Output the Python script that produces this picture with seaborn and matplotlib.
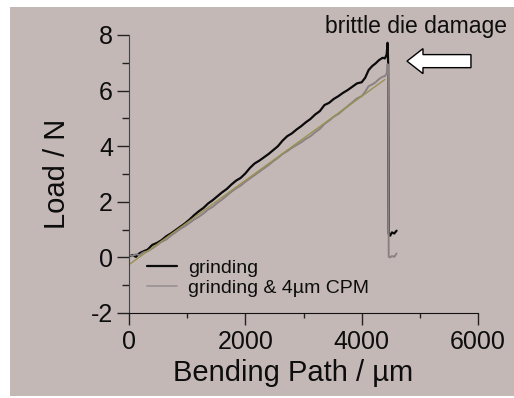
import numpy as np
import pandas as pd
import matplotlib
matplotlib.use("Agg")
import matplotlib.pyplot as plt
import seaborn as sns
from matplotlib.patches import Rectangle, FancyArrow
from matplotlib.ticker import MultipleLocator

# Bending path (um) and load (N)
path_grinding = [0, 60, 120, 180, 250, 320, 400, 480, 560, 640, 720, 800, 880, 960,
                 1040, 1120, 1200, 1280, 1360, 1440, 1520, 1600, 1680, 1760, 1840, 1920,
                 2000, 2080, 2160, 2240, 2320, 2400, 2480, 2560, 2640, 2720, 2800, 2880,
                 2960, 3040, 3120, 3200, 3280, 3360, 3440, 3520, 3600, 3680, 3760, 3840,
                 3920, 4000, 4060, 4120, 4180, 4240, 4300, 4360, 4400, 4430, 4445, 4455,
                 4465, 4490, 4520, 4560, 4600]
load_grinding = [0.05, 0.08, 0.02, 0.15, 0.22, 0.28, 0.45, 0.52, 0.62, 0.76, 0.86, 0.98,
                 1.10, 1.22, 1.36, 1.52, 1.66, 1.78, 1.94, 2.06, 2.20, 2.34, 2.46, 2.62,
                 2.76, 2.86, 3.02, 3.22, 3.38, 3.48, 3.60, 3.72, 3.86, 4.00, 4.20, 4.36,
                 4.46, 4.60, 4.72, 4.86, 4.98, 5.14, 5.26, 5.48, 5.56, 5.70, 5.80, 5.92,
                 6.02, 6.14, 6.26, 6.30, 6.46, 6.74, 6.88, 6.98, 7.10, 7.18, 7.16, 7.30,
                 7.72, 7.02, 0.85, 0.78, 0.90, 0.86, 0.96]

path_cpm = path_grinding
load_cpm = [0.10, 0.05, 0.12, 0.08, 0.18, 0.22, 0.32, 0.44, 0.56, 0.64, 0.78, 0.90,
            1.02, 1.12, 1.24, 1.36, 1.46, 1.58, 1.72, 1.82, 1.96, 2.08, 2.22, 2.36,
            2.48, 2.58, 2.72, 2.84, 2.96, 3.08, 3.20, 3.32, 3.46, 3.58, 3.72, 3.82,
            3.94, 4.04, 4.14, 4.26, 4.36, 4.50, 4.62, 4.80, 4.92, 5.06, 5.16, 5.30,
            5.44, 5.58, 5.72, 5.80, 5.96, 6.16, 6.22, 6.30, 6.42, 6.50, 6.52, 6.62,
            6.95, 6.70, 0.02, 0.00, 0.05, 0.02, 0.14]

# linear fit shown over the CPM curve
fit_path = [0, 4400]
fit_load = [-0.26, 6.40]

labels = ["grinding", "grinding & 4µm CPM"]

df1 = pd.DataFrame({"path": path_grinding, "load": load_grinding})
df2 = pd.DataFrame({"path": path_cpm, "load": load_cpm})
df_fit = pd.DataFrame({"path": fit_path, "load": fit_load})

sns.set_style("ticks")
plt.rcParams["font.family"] = ["Liberation Sans", "DejaVu Sans"]
plt.rcParams["text.color"] = "#0d0d0d"
plt.rcParams["axes.unicode_minus"] = False

bg = "#c4b8b7"
fig = plt.figure(figsize=(5.14, 3.98), dpi=100, facecolor="white")
fig.add_artist(Rectangle((10 / 514, 2 / 398), 1 - 10 / 514, 389 / 398,
                         transform=fig.transFigure, facecolor=bg,
                         edgecolor="none", zorder=-10))
ax = fig.add_axes([129 / 514, 1 - 313 / 398, 349 / 514, 278 / 398])
ax.set_facecolor("none")

sns.lineplot(data=df1, x="path", y="load", sort=False, color="#0a0a0a",
             linewidth=1.6, ax=ax, label=labels[0])
sns.lineplot(data=df2, x="path", y="load", sort=False, color="#8a8282",
             linewidth=1.4, ax=ax, label=labels[1])
sns.lineplot(data=df_fit, x="path", y="load", sort=False, color="#9a9050",
             linewidth=1.0, ax=ax, legend=False)

ax.set_xlim(0, 6000)
ax.set_ylim(-2, 8)
ax.xaxis.set_major_locator(MultipleLocator(2000))
ax.xaxis.set_minor_locator(MultipleLocator(1000))
ax.yaxis.set_major_locator(MultipleLocator(2))
ax.yaxis.set_minor_locator(MultipleLocator(1))
ax.tick_params(axis="both", which="major", direction="out", length=8.5, width=1,
               color="#222222", labelsize=18, labelcolor="#0d0d0d")
ax.tick_params(axis="y", which="major", pad=3)
ax.tick_params(axis="x", which="major", pad=4)
ax.tick_params(axis="x", which="minor", direction="out", length=3.5, width=1, color="#222222")
ax.tick_params(axis="y", which="minor", direction="out", length=5, width=1, color="#222222")

for side in ["top", "right"]:
    ax.spines[side].set_visible(False)
ax.spines["bottom"].set_color("#111111")
ax.spines["left"].set_color("#444444")

ax.set_xlabel("Bending Path / µm", fontsize=21, color="#0d0d0d")
ax.set_ylabel("Load / N", fontsize=21, color="#0d0d0d")
ax.xaxis.set_label_coords(0.47, -0.216)
ax.xaxis.label.set_va("center")
ax.yaxis.set_label_coords(-0.206, 0.5)
ax.yaxis.label.set_va("center")

leg = ax.legend(loc="upper left", bbox_to_anchor=(0.052, 0.194), frameon=False,
                fontsize=14, handlelength=1.55, handletextpad=0.55,
                labelspacing=0.15, borderpad=0, borderaxespad=0)
leg.get_lines()[1].set_color("#a09898")

ax.text(4934, 8.29, "brittle die damage", fontsize=16.5, ha="center", va="center",
        clip_on=False)
ax.add_patch(FancyArrow(5879, 7.06, -1100, 0, width=0.47, head_width=0.9,
                        head_length=275, length_includes_head=True,
                        facecolor="white", edgecolor="black", linewidth=1,
                        clip_on=False))

fig.savefig("out.png", dpi=100, facecolor="white")
